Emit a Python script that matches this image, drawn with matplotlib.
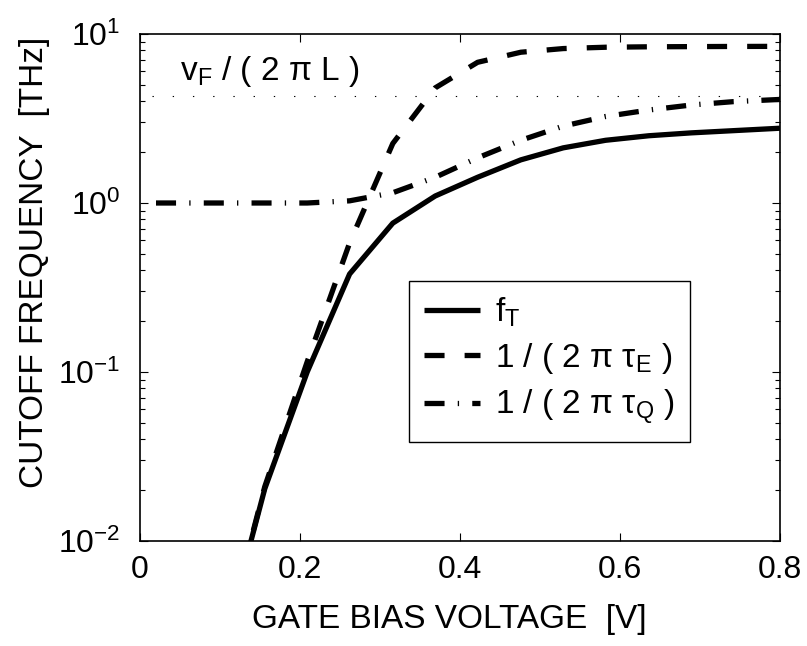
import matplotlib
import matplotlib.pyplot as plt
import numpy as np

matplotlib.rcParams["font.family"] = ["Liberation Sans", "DejaVu Sans"]
matplotlib.rcParams["mathtext.fontset"] = "custom"
matplotlib.rcParams["mathtext.rm"] = "Liberation Sans"
matplotlib.rcParams["mathtext.it"] = "Liberation Sans"
matplotlib.rcParams["mathtext.default"] = "regular"
matplotlib.rcParams["axes.unicode_minus"] = True
plt.switch_backend("agg")

FS = 23

# gate bias voltage [V] and cutoff frequencies [THz]
v_ft = [0.102, 0.156, 0.209, 0.262, 0.316, 0.369, 0.422, 0.476, 0.529, 0.582, 0.636, 0.689, 0.742, 0.8]
f_t = [0.0022, 0.0204, 0.10, 0.38, 0.76, 1.10, 1.42, 1.80, 2.12, 2.35, 2.50, 2.60, 2.68, 2.77]

v_e = [0.102, 0.156, 0.209, 0.262, 0.316, 0.369, 0.422, 0.476, 0.529, 0.582, 0.636, 0.689, 0.742, 0.8]
f_e = [0.0022, 0.021, 0.115, 0.58, 2.25, 4.8, 6.8, 7.8, 8.2, 8.35, 8.4, 8.42, 8.44, 8.45]

v_q = [0.02, 0.102, 0.156, 0.209, 0.262, 0.316, 0.369, 0.422, 0.476, 0.529, 0.582, 0.636, 0.689, 0.742, 0.8]
f_q = [1.0, 1.0, 1.0, 1.0, 1.03, 1.15, 1.42, 1.85, 2.35, 2.85, 3.25, 3.55, 3.80, 3.98, 4.10]

v_ballistic = [0.015, 0.8]
f_ballistic = 4.3

x_ticks = [0, 0.2, 0.4, 0.6, 0.8]
x_ticklabels = ["0", "0.2", "0.4", "0.6", "0.8"]

fig = plt.figure(figsize=(8.07, 6.46), dpi=100)
fig.patch.set_facecolor("white")
ax = fig.add_axes([140 / 807, 1 - 541 / 646, 640 / 807, 507 / 646])

lw = 3.8
ax.plot(v_ft, f_t, color="black", linewidth=lw, linestyle="-",
        solid_capstyle="butt", solid_joinstyle="round",
        label=r"f$_{\mathregular{T}}$")
ax.plot(v_e, f_e, color="black", linewidth=lw, linestyle=(0, (3.8, 3.8)),
        dash_capstyle="butt", label=r"1 / ( 2 π τ$_{\mathregular{E}}$ )")
ax.plot(v_q, f_q, color="black", linewidth=lw, linestyle=(0, (3.8, 2.5, 0.25, 2.5)),
        dash_capstyle="butt", label=r"1 / ( 2 π τ$_{\mathregular{Q}}$ )")
ax.plot(v_ballistic, [f_ballistic, f_ballistic], color="black", linewidth=0.8,
        linestyle=(0, (1.2, 17)))

ax.text(0.05, 5.35, r"v$_{\mathregular{F}}$ / ( 2 π L )", fontsize=FS + 1, va="baseline", ha="left")

ax.set_yscale("log")
ax.set_xlim(0, 0.8)
ax.set_ylim(1e-2, 1e1)
ax.set_xticks(x_ticks)
ax.set_xticklabels(x_ticklabels)
ax.xaxis.set_minor_locator(matplotlib.ticker.NullLocator())

ax.tick_params(which="both", direction="in", top=True, right=True, labelsize=FS)
ax.tick_params(which="major", length=6, width=0.8)
ax.tick_params(which="minor", length=3.5, width=0.8)
ax.tick_params(axis="x", pad=10)
ax.tick_params(axis="y", pad=14)
for sp in ax.spines.values():
    sp.set_linewidth(1.2)

ax.set_xlabel("GATE BIAS VOLTAGE  [V]", fontsize=FS + 1)
ax.set_ylabel("CUTOFF FREQUENCY  [THz]", fontsize=FS + 1)
ax.xaxis.set_label_coords(0.483, -0.125)
ax.yaxis.set_label_coords(-0.14, 0.55)

leg = ax.legend(loc="upper left", bbox_to_anchor=(0.42, 0.513), borderaxespad=0,
                fontsize=FS + 1, handlelength=1.7, handletextpad=0.45, borderpad=0.45,
                labelspacing=0.35, fancybox=False, framealpha=1, edgecolor="black")
leg.get_frame().set_linewidth(1.0)

fig.savefig("out.png", dpi=100, facecolor="white")
